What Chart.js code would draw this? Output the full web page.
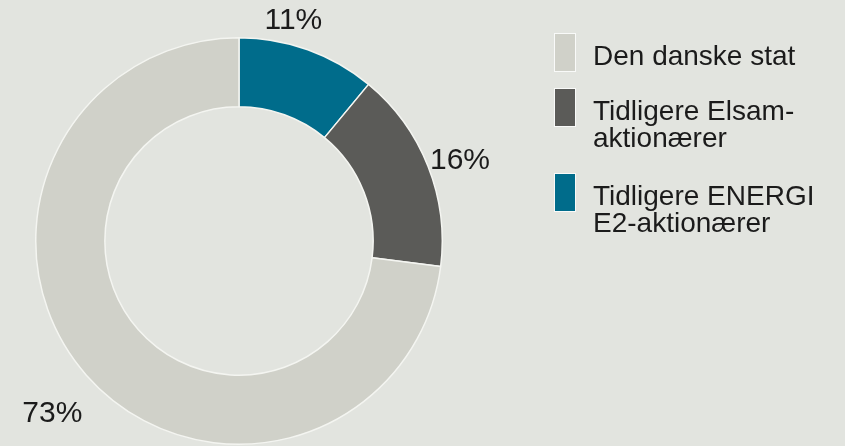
<!DOCTYPE html>
<html>
<head>
<meta charset="utf-8">
<script src="https://cdn.jsdelivr.net/npm/chart.js@4"></script>
<style>
    html, body { margin: 0; padding: 0; background: #e2e4df; }
    #wrap { position: relative; width: 845px; height: 446px; overflow: hidden; }
    #pie { position: absolute; left: 0; top: 0; }
    .item { position: absolute; left: 555px; }
    .box { position: absolute; left: 0; width: 20px; height: 37px; box-shadow: 0 0 0 1px rgba(255,255,255,0.8); }
    .txt { position: absolute; left: 38px; white-space: nowrap; font-family: "Liberation Sans", Arial, sans-serif; font-size: 28px; line-height: 27px; color: #1b1b1b; }
</style>
</head>
<body>
<div id="wrap">
    <canvas id="pie" width="845" height="446"></canvas>
    <div id="legend"></div>
</div>
<script>
// Data
let owners = ['Den danske stat', 'Tidligere Elsam-aktionærer', 'Tidligere ENERGI E2-aktionærer'];
let legendLines = [['Den danske stat'], ['Tidligere Elsam-', 'aktionærer'], ['Tidligere ENERGI', 'E2-aktionærer']];
let shares = [73, 16, 11];
let colors = ['#d0d1c9', '#5b5b58', '#006c8b'];

// the ring runs clockwise from the top: E2, Elsam, staten
let ringOrder = [2, 1, 0];

// where each percent label sits (fraction along its arc, distance from centre)
let labelPos = [
    { frac: 0.495, r: 254 },
    { frac: 0.53, r: 235 },
    { frac: 0.35, r: 227 }
];

let percentLabels = {
    id: 'percentLabels',
    afterDraw(chart) {
        let ctx = chart.ctx;
        let meta = chart.getDatasetMeta(0);
        ctx.save();
        ctx.font = '30px "Liberation Sans", Arial, sans-serif';
        ctx.fillStyle = '#1b1b1b';
        ctx.textAlign = 'center';
        ctx.textBaseline = 'middle';
        meta.data.forEach((arc, i) => {
            let idx = ringOrder[i];
            let p = labelPos[idx];
            let a = arc.startAngle + p.frac * (arc.endAngle - arc.startAngle);
            let x = arc.x + Math.cos(a) * p.r;
            let y = arc.y + Math.sin(a) * p.r;
            ctx.fillText(shares[idx] + '%', x, y);
        });
        ctx.restore();
    }
};

let pieChart;

function drawChart() {
    let ctx = document.getElementById('pie').getContext('2d');
    if (pieChart) {
        pieChart.destroy();
    }
    pieChart = new Chart(ctx, {
        type: 'doughnut',
        data: {
            labels: ringOrder.map(i => owners[i]),
            datasets: [{
                data: ringOrder.map(i => shares[i]),
                backgroundColor: ringOrder.map(i => colors[i]),
                borderColor: '#f4f5f1',
                borderWidth: 1.5
            }]
        },
        options: {
            responsive: false,
            animation: false,
            cutout: '66%',
            layout: {
                padding: { left: 35, right: 402, top: 37, bottom: 1 }
            },
            plugins: {
                legend: { display: false },
                tooltip: { enabled: false }
            }
        },
        plugins: [percentLabels]
    });
}

// legend built from the same arrays
function drawLegend() {
    let tops = [34, 89, 174];
    let el = document.getElementById('legend');
    owners.forEach((name, i) => {
        let item = document.createElement('div');
        item.className = 'item';
        item.style.top = tops[i] + 'px';
        let box = document.createElement('div');
        box.className = 'box';
        box.style.background = colors[i];
        let txt = document.createElement('div');
        txt.className = 'txt';
        txt.style.top = '8px';
        txt.innerHTML = legendLines[i].join('<br>');
        item.appendChild(box);
        item.appendChild(txt);
        el.appendChild(item);
    });
}

document.addEventListener('DOMContentLoaded', () => {
    drawChart();
    drawLegend();
});
</script>
</body>
</html>
